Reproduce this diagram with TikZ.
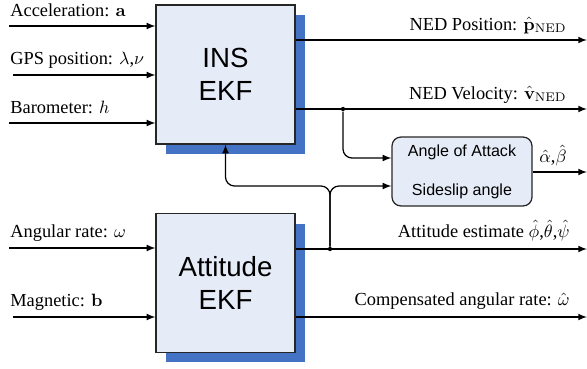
\documentclass[tikz,border=0pt]{standalone}
\usepackage[no-math]{fontspec}
\setmainfont{Liberation Serif}
\setsansfont{Liberation Sans}
\usetikzlibrary{shadows}
\definecolor{boxfill}{RGB}{230,236,247}
\definecolor{shadowblue}{RGB}{68,114,196}
\tikzset{
  ekf/.style={draw=black!85, line width=0.7pt, fill=boxfill, minimum width=77.8pt, minimum height=77.8pt,
    align=center, font=\sffamily\fontsize{15.5}{18.5}\selectfont,
    drop shadow={shadow xshift=5.6pt, shadow yshift=-5.6pt, fill=shadowblue, opacity=1}},
  aoabox/.style={draw=black!85, line width=0.7pt, fill=boxfill, rounded corners=5pt, minimum width=78.4pt,
    minimum height=38.6pt, align=center, font=\sffamily\fontsize{9}{11}\selectfont},
  lbl/.style={inner sep=0pt, font=\fontsize{10.3}{12}\selectfont},
  arr/.style={-latex, line width=0.7pt},
  dot/.style={circle, fill=black, inner sep=0pt, minimum size=2.4pt}
}
\begin{document}
\begin{tikzpicture}[x=0.56pt, y=-0.56pt]
		%%%%% START %%%%%
		\useasboundingbox (0,0) rectangle (587,368);
		
		\node[ekf] (ins) at (225.5,74.5) {INS\\EKF};
		\node[ekf] (att) at (225.5,283) {Attitude\\EKF};
		\node[aoabox] (aoa) at (462,171.5) {Angle of Attack\\[11pt]Sideslip angle};
		
		% inputs
		\coordinate (acc) at (9,26);
		\coordinate (gps) at (13,75);
		\coordinate (baro) at (9,123);
		\coordinate (gyro) at (9,248);
		\coordinate (mag) at (13,317);
		\draw[arr] (acc) -- (acc -| ins.west);
		\draw[arr] (gps) -- (gps -| ins.west);
		\draw[arr] (baro) -- (baro -| ins.west);
		\draw[arr] (gyro) -- (gyro -| att.west);
		\draw[arr] (mag) -- (mag -| att.west);
		\node[lbl, anchor=base west] (acclbl) at (10,16) {Acceleration: $\mathbf{a}$};
		\node[lbl, anchor=base west] (gpslbl) at (10,64) {GPS position: $\lambda$,$\nu$};
		\node[lbl, anchor=base west] (barolbl) at (10,113) {Barometer: $h$};
		\node[lbl, anchor=base west] (gyrolbl) at (10,237) {Angular rate: $\omega$};
		\node[lbl, anchor=base west] (maglbl) at (10,306) {Magnetic: $\mathbf{b}$};
		
		% outputs
		\coordinate (pos) at (587,40);
		\coordinate (vel) at (587,109);
		\coordinate (euler) at (587,249);
		\coordinate (rate) at (587,317);
		\coordinate (ab) at (587,172);
		\draw[arr] (ins.east |- pos) -- (pos);
		\draw[arr] (ins.east |- vel) -- (vel);
		\draw[arr] (att.east |- euler) -- (euler);
		\draw[arr] (att.east |- rate) -- (rate);
		\draw[arr] (aoa.east |- ab) -- (ab);
		\node[lbl, anchor=base east] (poslbl) at (567,30) {NED Position: $\hat{\mathbf{p}}_{\mathrm{NED}}$};
		\node[lbl, anchor=base east] (vellbl) at (567,99) {NED Velocity: $\hat{\mathbf{v}}_{\mathrm{NED}}$};
		\node[lbl, anchor=base east] (eulerlbl) at (570,237) {Attitude estimate $\hat{\phi}$,$\hat{\theta}$,$\hat{\psi}$};
		\node[lbl, anchor=base east] (ratelbl) at (570,305) {Compensated angular rate: $\hat{\omega}$};
		\node[lbl, anchor=base] (ablbl) at (553,162) {$\hat{\alpha}$,$\hat{\beta}$};
		
		% feedback
		\node[dot] (d1) at (343,109) {};
		\node[dot] (d2) at (330,249) {};
		\coordinate (jn) at (330,186);
		\draw[arr, rounded corners=5pt] (d1) |- (aoa.west |- 0,158);
		\draw[arr, rounded corners=5pt] (d2) |- (aoa.west |- jn);
		\draw[arr, rounded corners=5pt] (d2) -- (jn) -| (ins.south);
		
		%%%%% END %%%%%
	\end{tikzpicture}
\end{document}
